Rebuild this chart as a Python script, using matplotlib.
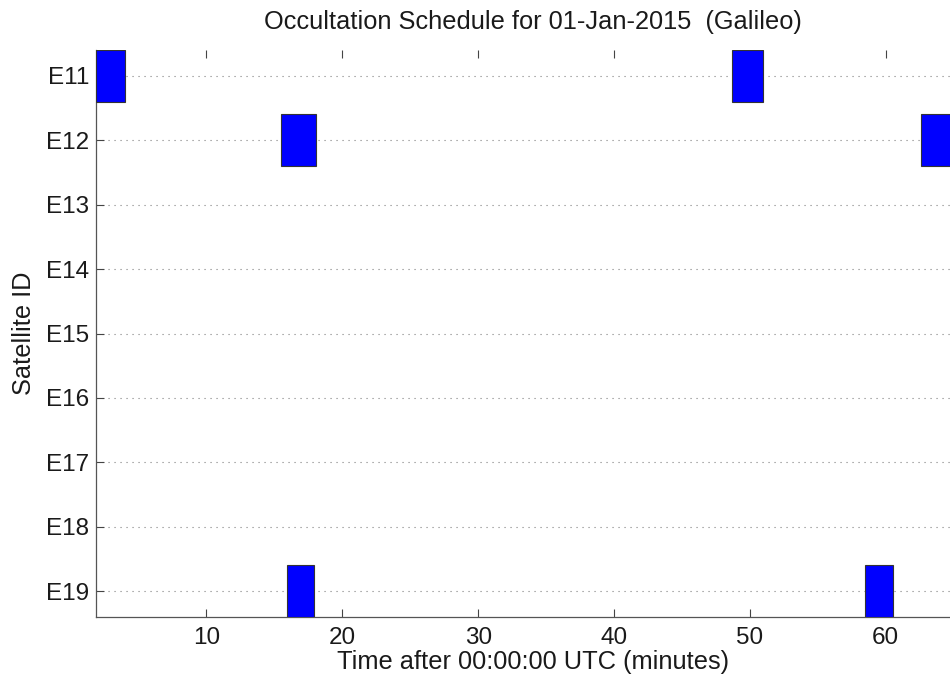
import matplotlib
matplotlib.use("Agg")
import matplotlib.pyplot as plt

plt.rcParams['font.family'] = ['Liberation Sans', 'DejaVu Sans']

# satellite rows and occultation windows (minutes after 00:00:00 UTC)
sat_ids = [11, 12, 13, 14, 15, 16, 17, 18, 19]
occ_sat = [11, 11, 12, 12, 19, 19]
occ_start = [1.87, 48.65, 15.45, 62.6, 15.95, 58.5]
occ_end = [4.0, 51.0, 18.05, 66.2, 17.95, 60.55]
x_ticks = [10, 20, 30, 40, 50, 60]

fig = plt.figure(figsize=(9.5, 6.78), dpi=100)
ax = fig.add_axes([96 / 950, 61 / 678, 874 / 950, 567 / 678])

for s, t0, t1 in zip(occ_sat, occ_start, occ_end):
    ax.barh(s, t1 - t0, left=t0, height=0.8, color="#0000ff",
            edgecolor="#333333", linewidth=0.8, zorder=3)

for s in sat_ids:
    ax.axhline(s, color="#808080", lw=0.8, ls=(0, (1, 4.4)), zorder=1)

ax.set_xlim(min(occ_start), max(occ_end))
ax.set_ylim(sat_ids[-1] + 0.4, sat_ids[0] - 0.4)
ax.set_yticks(sat_ids)
ax.set_yticklabels(["E%d" % s for s in sat_ids])
ax.set_xticks(x_ticks)

ax.tick_params(direction="in", length=5.5, width=0.8, color="#444444",
               labelsize=17.5, labelcolor="#1a1a1a", top=True, pad=7)
ax.tick_params(axis="y", pad=5)
for side in ("top", "right"):
    ax.spines[side].set_visible(False)
for side in ("left", "bottom"):
    ax.spines[side].set_color("#555555")
    ax.spines[side].set_linewidth(0.9)

ax.set_title("Occultation Schedule for 01-Jan-2015  (Galileo)",
             fontsize=18.3, color="#1a1a1a", pad=15)
ax.set_xlabel("Time after 00:00:00 UTC (minutes)", fontsize=18.3,
              color="#1a1a1a", labelpad=1)
ax.set_ylabel("Satellite ID", fontsize=18.3, color="#1a1a1a", labelpad=7)

fig.savefig("out.png", dpi=100)
